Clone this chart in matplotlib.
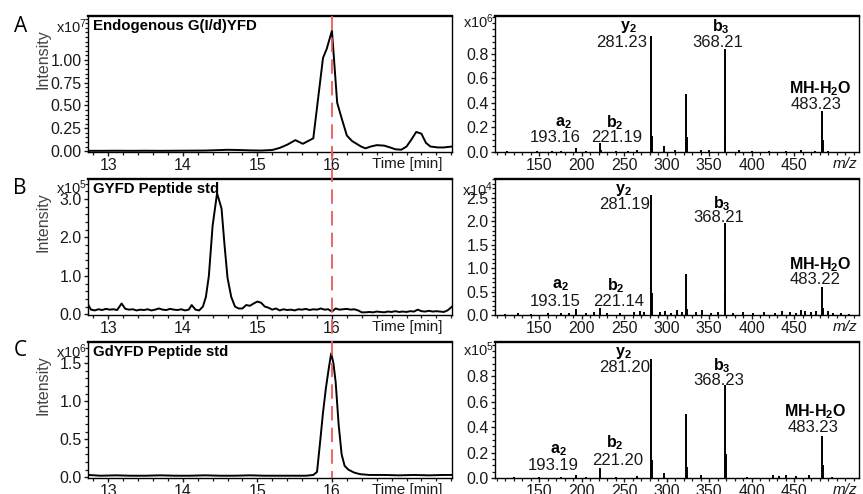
import matplotlib
matplotlib.use('Agg')
from matplotlib import pyplot as plt
from matplotlib.ticker import MultipleLocator, FixedLocator, FormatStrFormatter
from matplotlib.lines import Line2D
import matplotlib.transforms as mtransforms

plt.rcParams['font.family'] = 'Liberation Sans'
plt.rcParams['mathtext.fontset'] = 'custom'
plt.rcParams['mathtext.rm'] = 'Liberation Sans'
plt.rcParams['mathtext.bf'] = 'Liberation Sans:bold'
plt.rcParams['mathtext.it'] = 'Liberation Sans:italic'

# ---- chromatograms (time in min, intensity in units of the panel multiplier)
tA = [12.73, 12.9, 13.1, 13.3, 13.5, 13.7, 13.9, 14.1, 14.3, 14.45, 14.6, 14.75, 14.9, 15.05,
      15.2, 15.3, 15.4, 15.51, 15.61, 15.75, 15.88, 15.93, 16.0, 16.07, 16.13, 16.2, 16.27,
      16.33, 16.39, 16.45, 16.52, 16.6, 16.7, 16.78, 16.85, 16.93, 17.0, 17.06, 17.13, 17.2,
      17.26, 17.32, 17.42, 17.5, 17.61]
iA = [0.003, 0.003, 0.004, 0.003, 0.004, 0.003, 0.004, 0.005, 0.006, 0.01, 0.014, 0.012, 0.008, 0.006,
      0.012, 0.035, 0.07, 0.12, 0.08, 0.14, 1.02, 1.12, 1.32, 0.53, 0.36, 0.17, 0.11,
      0.08, 0.05, 0.03, 0.05, 0.065, 0.06, 0.04, 0.02, 0.015, 0.05, 0.12, 0.21, 0.19,
      0.09, 0.05, 0.04, 0.04, 0.05]

tB = [12.73, 12.77, 12.82, 12.87, 12.92, 12.97, 13.02, 13.07, 13.12, 13.18, 13.23, 13.28, 13.33,
      13.38, 13.43, 13.48, 13.53, 13.58, 13.63, 13.68, 13.73, 13.78, 13.83, 13.88, 13.93, 13.98,
      14.03, 14.08, 14.12, 14.17, 14.22, 14.27, 14.31, 14.35, 14.4, 14.46, 14.52, 14.56, 14.6,
      14.65, 14.7, 14.75, 14.8, 14.85, 14.9, 14.95, 15.0, 15.05, 15.1, 15.15, 15.2, 15.25, 15.3,
      15.35, 15.4, 15.45, 15.5, 15.55, 15.6, 15.65, 15.7, 15.75, 15.8, 15.85, 15.9, 15.95, 16.0,
      16.05, 16.1, 16.15, 16.2, 16.25, 16.3, 16.35, 16.4, 16.45, 16.5, 16.55, 16.6, 16.65, 16.7,
      16.75, 16.8, 16.85, 16.9, 16.95, 17.0, 17.05, 17.1, 17.15, 17.2, 17.25, 17.3, 17.35, 17.4,
      17.45, 17.5, 17.55, 17.61]
iB = [0.25, 0.12, 0.1, 0.13, 0.11, 0.14, 0.12, 0.13, 0.11, 0.28, 0.14, 0.12, 0.13,
      0.1, 0.12, 0.11, 0.13, 0.1, 0.12, 0.15, 0.12, 0.11, 0.14, 0.12, 0.11, 0.13,
      0.1, 0.12, 0.24, 0.12, 0.1, 0.2, 0.45, 1.0, 2.3, 3.15, 2.75, 1.8, 0.95,
      0.45, 0.2, 0.15, 0.15, 0.24, 0.22, 0.28, 0.33, 0.3, 0.2, 0.17, 0.12, 0.15, 0.1,
      0.13, 0.11, 0.12, 0.1, 0.13, 0.12, 0.14, 0.11, 0.13, 0.12, 0.15, 0.12, 0.13, 0.07,
      0.15, 0.12, 0.13, 0.14, 0.12, 0.13, 0.1, 0.05, 0.05, 0.06, 0.05, 0.07, 0.06, 0.05,
      0.07, 0.06, 0.08, 0.06, 0.07, 0.06, 0.08, 0.07, 0.12, 0.08, 0.07, 0.09, 0.07, 0.08,
      0.07, 0.06, 0.1, 0.2]

tC = [12.73, 12.9, 13.1, 13.3, 13.5, 13.7, 13.9, 14.1, 14.3, 14.5, 14.7, 14.9, 15.1, 15.3, 15.5,
      15.65, 15.75, 15.8, 15.84, 15.88, 15.92, 15.96, 15.99, 16.02, 16.05, 16.09, 16.13, 16.17,
      16.22, 16.3, 16.38, 16.5, 16.7, 16.9, 17.1, 17.3, 17.5, 17.61]
iC = [0.03, 0.02, 0.025, 0.02, 0.02, 0.025, 0.02, 0.02, 0.025, 0.02, 0.02, 0.025, 0.02, 0.02, 0.02,
      0.02, 0.03, 0.07, 0.45, 0.85, 1.18, 1.45, 1.63, 1.5, 1.25, 0.69, 0.3, 0.15,
      0.1, 0.06, 0.04, 0.03, 0.03, 0.025, 0.03, 0.025, 0.03, 0.03]

chrom_titles = ['Endogenous G(I/d)YFD', 'GYFD Peptide std', 'GdYFD Peptide std']
chrom_exp = [7, 5, 6]
chrom_yticks = [[0, 0.25, 0.5, 0.75, 1.0], [0, 1, 2, 3], [0, 0.5, 1.0, 1.5]]
chrom_fmt = ['%.2f', '%.1f', '%.1f']

# ---- MS/MS spectra (m/z, intensity in units of the panel multiplier)
mzA = [112, 130, 147, 165, 175, 193.16, 205, 221.19, 222.2, 240, 255, 265, 281.23, 282.23, 297.2,
       310, 323.2, 324.2, 340, 350, 368.21, 369.21, 385, 400, 420, 440, 458, 475, 483.23, 484.23, 490]
inA = [0.005, 0.004, 0.006, 0.008, 0.01, 0.03, 0.008, 0.075, 0.02, 0.01, 0.008, 0.015, 0.95, 0.13, 0.05,
       0.015, 0.47, 0.12, 0.02, 0.02, 0.84, 0.15, 0.015, 0.01, 0.008, 0.01, 0.015, 0.01, 0.335, 0.10, 0.01]

mzB = [110, 125, 140, 160, 175, 185, 193.15, 205, 215, 221.14, 230, 245, 262, 268, 273, 281.19, 282.19,
       292, 298, 305, 312, 318, 323.2, 324.2, 335, 341, 352, 360, 368.21, 369.21, 378, 390, 402, 415,
       428, 436, 445, 452, 458, 463, 470, 476, 483.22, 484.22, 490, 496, 505, 515]
inB = [0.03, 0.04, 0.03, 0.04, 0.05, 0.04, 0.12, 0.05, 0.06, 0.15, 0.04, 0.05, 0.07, 0.08, 0.07, 2.55, 0.48,
       0.06, 0.09, 0.05, 0.1, 0.07, 0.88, 0.12, 0.06, 0.1, 0.05, 0.06, 1.97, 0.47, 0.05, 0.07, 0.05, 0.06,
       0.05, 0.08, 0.06, 0.05, 0.1, 0.08, 0.06, 0.09, 0.60, 0.15, 0.08, 0.05, 0.04, 0.03]

mzC = [120, 150, 175, 193.19, 205, 221.2, 240, 265, 281.2, 282.2, 297, 323.2, 324.2, 340, 368.23,
       369.23, 395, 425, 432, 440, 452, 468, 483.23, 484.23, 495]
inC = [0.005, 0.008, 0.01, 0.02, 0.008, 0.08, 0.01, 0.015, 0.94, 0.14, 0.04, 0.50, 0.09, 0.02, 0.73,
       0.19, 0.01, 0.02, 0.015, 0.02, 0.015, 0.02, 0.33, 0.10, 0.01]

ion_names = ['a$_\\mathbf{2}$', 'b$_\\mathbf{2}$', 'y$_\\mathbf{2}$', 'b$_\\mathbf{3}$', 'MH-H$_\\mathbf{2}$O']
ion_mzA = [193.16, 221.19, 281.23, 368.21, 483.23]
ion_mzB = [193.15, 221.14, 281.19, 368.21, 483.22]
ion_mzC = [193.19, 221.20, 281.20, 368.23, 483.23]
spec_exp = [6, 4, 5]
spec_yticks = [[0, 0.2, 0.4, 0.6, 0.8], [0, 0.5, 1.0, 1.5, 2.0, 2.5], [0, 0.2, 0.4, 0.6, 0.8]]
mz_ticks = [150, 200, 250, 300, 350, 400, 450]

# label placement (m/z, y) for name and value of each ion, per panel
label_pos = [
    [((177.9, 0.237), (168.6, 0.122)), ((239.2, 0.237), (241.5, 0.122)), ((254.5, 1.02), (247.5, 0.89)),
     ((364.0, 1.02), (360.4, 0.89)), ((480.5, 0.52), (475.8, 0.39))],
    [((174.4, 0.64), (168.5, 0.28)), ((240.3, 0.62), (243.0, 0.28)), ((249.0, 2.67), (251.0, 2.35)),
     ((364.8, 2.38), (360.8, 2.07)), ((480.5, 1.07), (474.6, 0.75))],
    [((172.2, 0.22), (166.3, 0.10)), ((239.2, 0.28), (242.0, 0.14)), ((249.0, 0.98), (251.0, 0.87)),
     ((364.8, 0.88), (360.8, 0.77)), ((474.6, 0.52), (472.6, 0.40))],
]

chroms = [(tA, iA), (tB, iB), (tC, iC)]
chrom_ylim = [(-0.01, 1.48), (-0.02, 3.52), (-0.01, 1.78)]
chrom_minor = [0.05, 0.2, 0.1]
spectra = [(mzA, inA, ion_mzA), (mzB, inB, ion_mzB), (mzC, inC, ion_mzC)]
spec_ylim = [(0, 1.11), (0, 2.9), (0, 1.07)]
spec_minor = [0.05, 0.1, 0.05]
exp_y_left = [0.92, 0.935, 0.93]
exp_y_right = [0.955, 0.925, 0.94]

fig = plt.figure(figsize=(8.63, 4.94), dpi=100)
bottoms = [0.6923, 0.3623, 0.0324]
h = 0.2753
tick_col = '#1a1a1a'


def style_axes(ax):
    for s in ['left', 'bottom', 'right']:
        ax.spines[s].set_linewidth(1.0)
    ax.spines['top'].set_linewidth(1.7)
    ax.tick_params(which='major', direction='out', length=3, width=1, pad=1.5,
                   labelsize=11.5, colors=tick_col)
    ax.tick_params(which='minor', direction='out', length=2, width=0.9, colors=tick_col)


left_axes = []
for k in range(3):
    ax = fig.add_axes([0.102, bottoms[k], 0.4218, h])
    left_axes.append(ax)
    t, y = chroms[k]
    ax.plot(t, y, color='k', lw=1.4)
    ax.set_xlim(12.73, 17.61)
    ax.set_ylim(*chrom_ylim[k])
    ax.xaxis.set_major_locator(FixedLocator([13, 14, 15, 16]))
    ax.xaxis.set_minor_locator(MultipleLocator(0.2))
    ax.yaxis.set_major_locator(FixedLocator(chrom_yticks[k]))
    ax.yaxis.set_major_formatter(FormatStrFormatter(chrom_fmt[k]))
    ax.yaxis.set_minor_locator(MultipleLocator(chrom_minor[k]))
    style_axes(ax)
    ax.text(0.014, 0.975, chrom_titles[k], transform=ax.transAxes, ha='left', va='top',
            fontsize=10.8, fontweight='bold')
    ax.text(-0.004, exp_y_left[k], 'x10$^{%d}$' % chrom_exp[k], transform=ax.transAxes,
            ha='right', va='center', fontsize=10.5, color=tick_col)
    ax.text(-0.124, 0.68, 'Intensity', transform=ax.transAxes, rotation=90,
            ha='center', va='center', fontsize=11.5, color='#444444')
    ax.text(0.975, -0.035, 'Time [min]', transform=ax.transAxes, ha='right', va='top',
            fontsize=11, color=tick_col)

for k in range(3):
    ax = fig.add_axes([0.5736, bottoms[k], 0.4218, h])
    mz, inten, ion_mz = spectra[k]
    ax.vlines(mz, 0, inten, color='k', lw=1.4)
    ax.set_xlim(97.9, 526.4)
    ax.set_ylim(*spec_ylim[k])
    ax.xaxis.set_major_locator(FixedLocator(mz_ticks))
    ax.xaxis.set_minor_locator(MultipleLocator(10))
    ax.yaxis.set_major_locator(FixedLocator(spec_yticks[k]))
    ax.yaxis.set_major_formatter(FormatStrFormatter('%.1f'))
    ax.yaxis.set_minor_locator(MultipleLocator(spec_minor[k]))
    style_axes(ax)
    ax.text(-0.004, exp_y_right[k], 'x10$^{%d}$' % spec_exp[k], transform=ax.transAxes,
            ha='right', va='center', fontsize=10.5, color=tick_col)
    ax.text(0.995, -0.035, 'm/z', transform=ax.transAxes, ha='right', va='top',
            fontsize=11, style='italic', color=tick_col)
    for j in range(len(ion_names)):
        (lx, ly), (vx, vy) = label_pos[k][j]
        ax.text(lx, ly, ion_names[j], ha='center', va='center', fontsize=11.5, fontweight='bold')
        ax.text(vx, vy, '%.2f' % ion_mz[j], ha='center', va='center', fontsize=12, color=tick_col)

# red dashed marker at 16 min across all chromatograms
trans = mtransforms.blended_transform_factory(left_axes[0].transData, fig.transFigure)
y_top = left_axes[0].get_position().y1
y_bot = left_axes[2].get_position().y0
fig.add_artist(Line2D([16, 16], [y_top, y_bot], transform=trans, color='#eb5a5a',
                      lw=1.3, linestyle=(0, (8, 4))))

for letter, (px, py) in zip(['A', 'B', 'C'], [(21, 26), (20, 189), (20, 350)]):
    fig.text(px / 863, 1 - py / 494, letter, fontsize=15, ha='center', va='center',
             family='Open Sans')

plt.savefig('out.png', dpi=100)
